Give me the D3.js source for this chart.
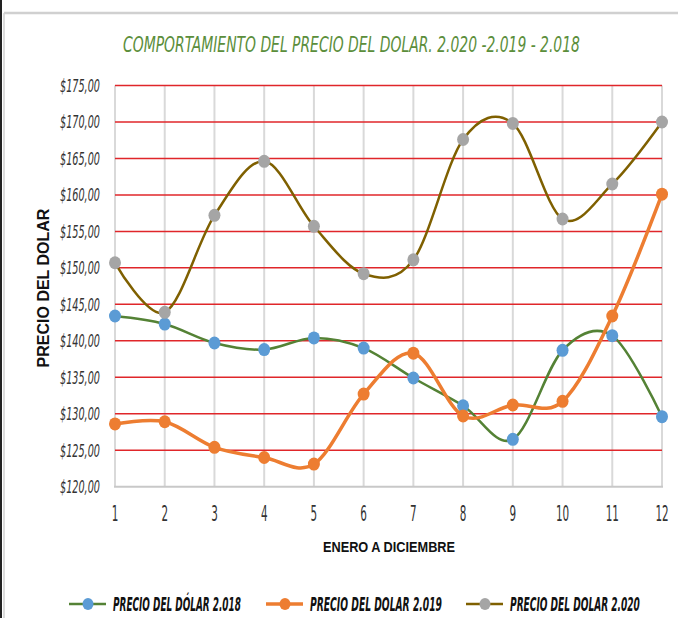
<!DOCTYPE html>
<html><head><meta charset="utf-8">
<script src="https://cdn.jsdelivr.net/npm/d3@7"></script>
<style>html,body{margin:0;padding:0;background:#fff;}svg{display:block;}</style>
</head><body>
<script>
const months = [1,2,3,4,5,6,7,8,9,10,11,12];
const yTicks = [120,125,130,135,140,145,150,155,160,165,170,175];
const price2018 = [143.4,142.3,139.7,138.8,140.4,139.0,134.9,131.1,126.5,138.7,140.7,129.6];
const price2019 = [128.6,128.9,125.4,124.0,123.1,132.7,138.3,129.7,131.2,131.7,143.4,160.1];
const price2020 = [150.7,143.9,157.2,164.6,155.7,149.2,151.1,167.6,169.8,156.7,161.5,170.0];
const seriesNames = ["PRECIO DEL DÓLAR 2.018","PRECIO DEL DOLAR 2.019","PRECIO DEL DOLAR 2.020"];
const title = "COMPORTAMIENTO DEL PRECIO DEL DOLAR. 2.020 -2.019 - 2.018";

const W = 678, H = 618;
const svg = d3.select("body").append("svg").attr("width", W).attr("height", H);
const condensed = "'DejaVu Sans Condensed','Liberation Sans Narrow','Arial Narrow',sans-serif";

// scale a text horizontally so that it starts at x0 and is `width` wide
function fit(sel, x0, y0, width){
  sel.each(function(){
    const w = this.getComputedTextLength();
    d3.select(this).attr("x",0).attr("y",0)
      .attr("transform",`translate(${x0},${y0}) scale(${width/w},1)`);
  });
}

// borders
svg.append("rect").attr("x",0).attr("y",0).attr("width",2).attr("height",H).attr("fill","#222");
svg.append("line").attr("x1",4).attr("x2",4).attr("y1",13).attr("y2",H).attr("stroke","#d0d0d0").attr("stroke-width",1.5);
svg.append("line").attr("x1",4).attr("x2",W).attr("y1",13).attr("y2",13).attr("stroke","#d0d0d0").attr("stroke-width",2.5);

const x = d3.scaleLinear().domain([1,12]).range([115,662]);
const y = d3.scaleLinear().domain([120,175]).range([486.7,85.5]);

// vertical gridlines
svg.append("g").selectAll("line").data(months).join("line")
  .attr("x1",d=>x(d)).attr("x2",d=>x(d)).attr("y1",y(175)).attr("y2",y(120))
  .attr("stroke","#d9d9d9").attr("stroke-width",2);
// horizontal gridlines
svg.append("g").selectAll("line").data(yTicks.filter(v=>v>120)).join("line")
  .attr("x1",x(1)).attr("x2",x(12)).attr("y1",d=>y(d)).attr("y2",d=>y(d))
  .attr("stroke","#e0262a").attr("stroke-width",1.5);
// bottom axis line
svg.append("line").attr("x1",x(1)-1).attr("x2",x(12)+1).attr("y1",y(120)).attr("y2",y(120))
  .attr("stroke","#c8c8c8").attr("stroke-width",2);

// y tick labels
svg.append("g").selectAll("text").data(yTicks).join("text")
  .style("font-family",condensed)
  .style("font-style","italic").style("font-size","18px").attr("fill","#333")
  .text(d=>"$"+d+",00")
  .each(function(d){ fit(d3.select(this), 60, y(d)+6.5, 40); });

// x tick labels
svg.append("g").selectAll("text").data(months).join("text")
  .attr("transform",d=>`translate(${x(d)},521) scale(0.55,1)`)
  .attr("text-anchor","middle")
  .style("font-family",condensed)
  .style("font-size","21px").attr("fill","#333")
  .text(d=>d);

// axis titles
svg.append("text").attr("transform","translate(389,552) scale(0.85,1)").attr("text-anchor","middle")
  .style("font-family","'Liberation Sans',Arial,sans-serif").style("font-weight","bold")
  .style("font-size","15px").attr("fill","#111").text("ENERO A DICIEMBRE");
svg.append("text").attr("transform","translate(49,288) rotate(-90)").attr("text-anchor","middle")
  .style("font-family","'Liberation Sans',Arial,sans-serif").style("font-weight","bold")
  .style("font-size","16px").attr("fill","#111").text("PRECIO DEL DOLAR");

// title
svg.append("text")
  .style("font-family",condensed)
  .style("font-style","italic").style("font-size","21px").attr("fill","#5b8e3b")
  .text(title)
  .call(fit, 123, 52, 457);

const series = [
  {name:seriesNames[0], values:price2018, line:"#548235", marker:"#5b9bd5", w:2.5, tl:128},
  {name:seriesNames[1], values:price2019, line:"#ed7d31", marker:"#ed7d31", w:3.5, tl:132},
  {name:seriesNames[2], values:price2020, line:"#7f6000", marker:"#a5a5a5", w:2.5, tl:130}
];
const lineGen = d3.line().x((d,i)=>x(months[i])).y(d=>y(d)).curve(d3.curveCardinal.tension(0));

series.forEach(s=>{
  svg.append("path").attr("d",lineGen(s.values)).attr("fill","none")
    .attr("stroke",s.line).attr("stroke-width",s.w).attr("stroke-linejoin","round");
  svg.append("g").selectAll("ellipse").data(s.values).join("ellipse")
    .attr("cx",(d,i)=>x(months[i])).attr("cy",d=>y(d)).attr("rx",6).attr("ry",6.5)
    .attr("fill",s.marker);
});

// legend
const legX = [69,266,466];
const lg = svg.append("g");
series.forEach((s,i)=>{
  const g = lg.append("g").attr("transform",`translate(${legX[i]},604)`);
  g.append("line").attr("x1",0).attr("x2",37).attr("y1",0).attr("y2",0).attr("stroke",s.line).attr("stroke-width",s.w);
  g.append("ellipse").attr("cx",19).attr("cy",0).attr("rx",5.5).attr("ry",6).attr("fill",s.marker);
  g.append("text")
    .style("font-family",condensed)
    .style("font-style","italic").style("font-weight","bold").style("font-size","19px").attr("fill","#111")
    .text(s.name)
    .call(fit, 44, 7, s.tl);
});
</script>
</body></html>
